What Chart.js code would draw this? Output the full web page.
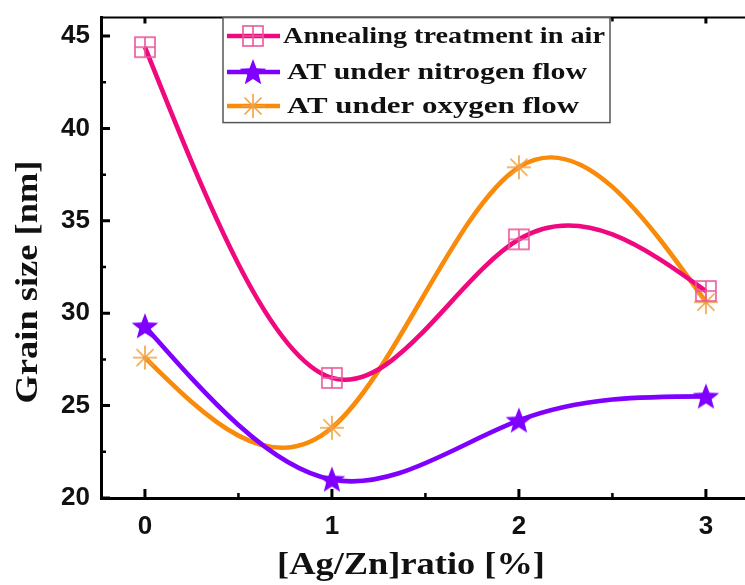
<!DOCTYPE html>
<html>
<head>
<meta charset="utf-8">
<script src="https://cdn.jsdelivr.net/npm/chart.js@4.4.0/dist/chart.umd.min.js"></script>
<style>
  html, body { margin: 0; padding: 0; background: #fff; overflow: hidden; }
  #wrap { width: 780px; height: 585px; }
</style>
</head>
<body>
<div id="wrap"><canvas id="grainChart" width="780" height="585"></canvas></div>
<script>
// values
const ratios = [0, 1, 2, 3];
const airSize = [44.4, 26.5, 34.0, 31.2];
const nitrogenSize = [29.3, 21.0, 24.2, 25.5];
const oxygenSize = [27.6, 23.8, 37.9, 30.6];
const xTicks = [0, 1, 2, 3];
const yTicks = [20, 25, 30, 35, 40, 45];
const seriesNames = ['Annealing treatment in air', 'AT under nitrogen flow', 'AT under oxygen flow'];
const lineColors = ['#F0087F', '#7F00FF', '#FA8A0A'];
const markerColors = ['#E8589C', '#7F00FF', '#F2A040'];

// marker images (square w/ cross, filled star, asterisk)
function makeMarker(kind, color) {
  const s = 30, c = s / 2;
  const cv = document.createElement('canvas');
  cv.width = s; cv.height = s;
  const g = cv.getContext('2d');
  g.strokeStyle = color; g.fillStyle = color; g.lineWidth = 1.6;
  if (kind === 'square') {
    g.strokeRect(c - 10, c - 10, 20, 20);
    g.beginPath();
    g.moveTo(c - 10, c); g.lineTo(c + 10, c);
    g.moveTo(c, c - 10); g.lineTo(c, c + 10);
    g.stroke();
  } else if (kind === 'star') {
    g.beginPath();
    for (let i = 0; i < 10; i++) {
      const r = i % 2 === 0 ? 14 : 6;
      const a = -Math.PI / 2 + i * Math.PI / 5;
      const px = c + r * Math.cos(a), py = c + 1 + r * Math.sin(a);
      if (i === 0) g.moveTo(px, py); else g.lineTo(px, py);
    }
    g.closePath();
    g.fill();
  } else {
    g.beginPath();
    for (let i = 0; i < 4; i++) {
      const a = i * Math.PI / 4;
      g.moveTo(c - 12 * Math.cos(a), c - 12 * Math.sin(a));
      g.lineTo(c + 12 * Math.cos(a), c + 12 * Math.sin(a));
    }
    g.stroke();
  }
  return cv;
}
const markers = [
  makeMarker('square', markerColors[0]),
  makeMarker('star', markerColors[1]),
  makeMarker('asterisk', markerColors[2])
];

function toPoints(vals) {
  return ratios.map((r, i) => ({ x: r, y: vals[i] }));
}

// the original curves are natural cubic splines; set the bezier control
// points of chart.js' line elements from the spline slopes at each point
const splinePlugin = {
  id: 'naturalSpline',
  beforeDatasetsDraw(chart) {
    chart.data.datasets.forEach((ds, di) => {
      const meta = chart.getDatasetMeta(di);
      const pts = meta.data;
      const n = pts.length;
      if (n < 3) return;
      const x = pts.map(p => p.x), y = pts.map(p => p.y);
      const h = [];
      for (let k = 0; k < n - 1; k++) h.push(x[k + 1] - x[k]);
      // tridiagonal solve for second derivatives, M[0] = M[n-1] = 0
      const M = new Array(n).fill(0);
      const a = [], b = [], c = [], r = [];
      for (let k = 1; k < n - 1; k++) {
        a.push(h[k - 1]); b.push(2 * (h[k - 1] + h[k])); c.push(h[k]);
        r.push(6 * ((y[k + 1] - y[k]) / h[k] - (y[k] - y[k - 1]) / h[k - 1]));
      }
      const m = b.length;
      for (let k = 1; k < m; k++) {
        const w = a[k] / b[k - 1];
        b[k] -= w * c[k - 1];
        r[k] -= w * r[k - 1];
      }
      M[m] = r[m - 1] / b[m - 1];
      for (let k = m - 2; k >= 0; k--) M[k + 1] = (r[k] - c[k] * M[k + 2]) / b[k];
      for (let k = 0; k < n - 1; k++) {
        const s = (y[k + 1] - y[k]) / h[k];
        const d0 = s - h[k] * (2 * M[k] + M[k + 1]) / 6;
        const d1 = s + h[k] * (M[k] + 2 * M[k + 1]) / 6;
        pts[k].cp2x = x[k] + h[k] / 3;
        pts[k].cp2y = y[k] + d0 * h[k] / 3;
        pts[k + 1].cp1x = x[k + 1] - h[k] / 3;
        pts[k + 1].cp1y = y[k + 1] - d1 * h[k] / 3;
      }
      meta.dataset._pointsUpdated = true;
    });
  }
};

// text in the figure is a bit wider than the font, so stretch it to width
function wideText(ctx, text, x, y, width) {
  const w = ctx.measureText(text).width;
  ctx.save();
  ctx.translate(x, y);
  ctx.scale(width / w, 1);
  ctx.fillText(text, 0, 0);
  ctx.restore();
}

const framePlugin = {
  id: 'frame',
  afterDraw(chart) {
    const ctx = chart.ctx;
    const a = chart.chartArea;
    const xs = chart.scales.x, ys = chart.scales.y;
    ctx.save();
    ctx.strokeStyle = '#000';
    // top + right frame
    ctx.lineWidth = 2;
    ctx.beginPath();
    ctx.moveTo(a.left, a.top); ctx.lineTo(a.right, a.top); ctx.lineTo(a.right, a.bottom);
    ctx.stroke();
    // inward ticks
    ctx.lineWidth = 3;
    ctx.beginPath();
    xTicks.forEach(v => {
      const px = xs.getPixelForValue(v);
      ctx.moveTo(px, a.bottom); ctx.lineTo(px, a.bottom - 9);
      ctx.moveTo(px, a.top); ctx.lineTo(px, a.top + 6);
    });
    yTicks.forEach(v => {
      const py = ys.getPixelForValue(v);
      ctx.moveTo(a.left, py); ctx.lineTo(a.left + 9, py);
    });
    ctx.stroke();
    ctx.lineWidth = 2.5;
    ctx.beginPath();
    [0.5, 1.5, 2.5].forEach(v => {
      const px = xs.getPixelForValue(v);
      ctx.moveTo(px, a.bottom); ctx.lineTo(px, a.bottom - 5);
      ctx.moveTo(px, a.top); ctx.lineTo(px, a.top + 4);
    });
    [22.5, 27.5, 32.5, 37.5, 42.5].forEach(v => {
      const py = ys.getPixelForValue(v);
      ctx.moveTo(a.left, py); ctx.lineTo(a.left + 5, py);
    });
    ctx.stroke();

    // axis titles
    ctx.fillStyle = '#111';
    ctx.font = 'bold 31px "Liberation Serif", "Times New Roman", serif';
    ctx.textAlign = 'center';
    ctx.textBaseline = 'middle';
    wideText(ctx, '[Ag/Zn]ratio [%]', 411, 566, 268);
    ctx.save();
    ctx.translate(29, 282);
    ctx.rotate(-Math.PI / 2);
    wideText(ctx, 'Grain size [nm]', 0, 0, 243);
    ctx.restore();

    // legend box
    ctx.fillStyle = '#fff';
    ctx.fillRect(223, a.top, 387, 105);
    ctx.strokeStyle = '#555';
    ctx.lineWidth = 1.5;
    ctx.strokeRect(223, a.top, 387, 105);
    ctx.font = 'bold 24px "Liberation Serif", "Times New Roman", serif';
    ctx.textAlign = 'left';
    const rowY = [36, 72, 106];
    const textX = [283, 287, 287];
    const textW = [322, 300, 292];
    seriesNames.forEach((name, i) => {
      ctx.strokeStyle = lineColors[i];
      ctx.lineWidth = 4.6;
      ctx.beginPath();
      ctx.moveTo(227, rowY[i]); ctx.lineTo(280, rowY[i]);
      ctx.stroke();
      ctx.drawImage(markers[i], 253 - 15, rowY[i] - 15);
      ctx.fillStyle = '#111';
      wideText(ctx, name, textX[i], rowY[i] + 1, textW[i]);
    });
    ctx.restore();
  }
};

const tickFont = { family: '"Liberation Sans", Arial, sans-serif', size: 26, weight: 'bold' };

new Chart(document.getElementById('grainChart'), {
  type: 'line',
  data: {
    datasets: [airSize, nitrogenSize, oxygenSize].map((vals, i) => ({
      label: seriesNames[i],
      data: toPoints(vals),
      borderColor: lineColors[i],
      backgroundColor: lineColors[i],
      borderWidth: 4.6,
      tension: 0.4,
      pointStyle: markers[i],
      pointRadius: 13,
      fill: false
    }))
  },
  options: {
    responsive: false,
    animation: false,
    layout: { padding: { top: 14, right: 18, left: 0, bottom: 0 } },
    plugins: { legend: { display: false }, tooltip: { enabled: false } },
    scales: {
      x: {
        type: 'linear',
        min: -0.235,
        max: 3.3,
        afterFit(scale) { scale.height = 87; scale.paddingLeft = 0; scale.paddingRight = 0; },
        afterBuildTicks(scale) { scale.ticks = xTicks.map(v => ({ value: v })); },
        grid: { display: false, drawTicks: false },
        border: { display: true, color: '#000', width: 3 },
        ticks: { color: '#111', font: tickFont, padding: 13, maxRotation: 0 }
      },
      y: {
        min: 20,
        max: 46,
        afterFit(scale) { scale.width = 101; scale.paddingTop = 0; scale.paddingBottom = 0; },
        afterBuildTicks(scale) { scale.ticks = yTicks.map(v => ({ value: v })); },
        grid: { display: false, drawTicks: false },
        border: { display: true, color: '#000', width: 3 },
        ticks: { color: '#111', font: tickFont, padding: 11 }
      }
    }
  },
  plugins: [splinePlugin, framePlugin]
});
</script>
</body>
</html>
